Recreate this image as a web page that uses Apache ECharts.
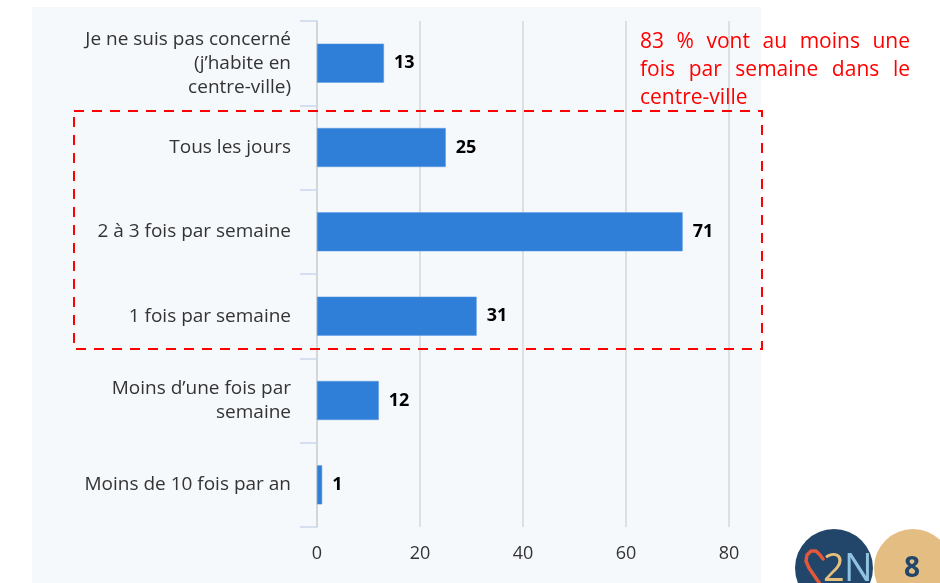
<!DOCTYPE html>
<html>
<head>
<meta charset="utf-8">
<script src="https://cdn.jsdelivr.net/npm/echarts@6/dist/echarts.min.js"></script>
<style>html,body{margin:0;padding:0;background:#fff}#c{width:940px;height:583px}</style>
</head>
<body>
<div id="c"></div>
<script>
const categories = [
  "Je ne suis pas concerné\n(j’habite en\ncentre-ville)",
  "Tous les jours",
  "2 à 3 fois par semaine",
  "1 fois par semaine",
  "Moins d’une fois par\nsemaine",
  "Moins de 10 fois par an"
];
const values = [13, 25, 71, 31, 12, 1];
const xTicks = [0, 20, 40, 60, 80];
const noteLines = [
  ["83", "%", "vont", "au", "moins", "une"],
  ["fois", "par", "semaine", "dans", "le"],
  ["centre-ville"]
];

const chart = echarts.init(document.getElementById('c'), null, {renderer: 'canvas'});

// justified annotation text
const noteFont = '21px "Open Sans"';
const ctx = document.createElement('canvas').getContext('2d');
ctx.font = noteFont;
const noteLeft = 640, noteRight = 910, noteTop = 42, noteStep = 28;
const noteEls = [];
noteLines.forEach((words, li) => {
  const widths = words.map(w => ctx.measureText(w).width);
  const total = widths.reduce((a, b) => a + b, 0);
  const justify = li < noteLines.length - 1 && words.length > 1;
  const gap = justify ? (noteRight - noteLeft - total) / (words.length - 1) : ctx.measureText(' ').width;
  let x = noteLeft;
  words.forEach((w, i) => {
    noteEls.push({
      type: 'text', x: x, y: noteTop + li * noteStep, z: 200,
      style: {text: w, fill: '#ff0000', font: noteFont, verticalAlign: 'middle'}
    });
    x += widths[i] + gap;
  });
});

const option = {
  backgroundColor: '#ffffff',
  animation: false,
  grid: {left: 317, right: 211, top: 21, bottom: 56, containLabel: false},
  xAxis: {
    type: 'value', min: 0, max: 80, interval: 20,
    axisLine: {show: false}, axisTick: {show: false},
    axisLabel: {margin: 18, color: '#333', fontSize: 18, fontFamily: 'Open Sans',
      formatter: v => xTicks.includes(v) ? String(v) : ''},
    splitLine: {show: true, lineStyle: {color: '#d6d6d6', width: 1.5}}
  },
  yAxis: {
    type: 'category', data: categories, inverse: true,
    axisLine: {show: true, lineStyle: {color: '#d3d3d3', width: 1.5}},
    axisTick: {show: true, length: 17, lineStyle: {color: '#ccd6eb', width: 1.5}},
    axisLabel: {margin: 26, color: '#333', fontSize: 19, lineHeight: 24, fontFamily: 'Open Sans', align: 'right'}
  },
  series: [{
    type: 'bar', data: values, barWidth: 39,
    itemStyle: {color: '#2f7ed8', borderColor: '#5a9be3', borderWidth: 0.5},
    label: {show: true, position: 'right', distance: 10, color: '#000', fontWeight: 'bold',
      fontSize: 18, fontFamily: 'Open Sans'}
  }],
  graphic: [
    {type: 'rect', z: -100, shape: {x: 32, y: 7, width: 729, height: 576}, style: {fill: '#f6f9fc'}},
    {type: 'rect', z: 150, shape: {x: 74, y: 111, width: 688, height: 238},
      style: {fill: null, stroke: '#ff0000', lineWidth: 2, lineDash: [10, 8]}},
    ...noteEls,
    {type: 'circle', z: 150, shape: {cx: 834, cy: 568, r: 39}, style: {fill: '#22466a'}},
    {type: 'circle', z: 150, shape: {cx: 913, cy: 568, r: 39}, style: {fill: '#e3bd82'}},
    {type: 'text', z: 160, x: 912, y: 569, style: {text: '8', fill: '#22466a', font: 'bold 28px "Open Sans"', align: 'center', verticalAlign: 'middle'}},
    {type: 'polyline', z: 160, shape: {points: [[820, 584], [809, 568], [806, 561], [807, 555], [811, 551], [816, 551], [820, 555], [823, 559]]},
      style: {fill: null, stroke: '#e3573a', lineWidth: 3.5, lineCap: 'round', lineJoin: 'round'}},
    {type: 'text', z: 160, x: 823, y: 570, style: {text: '2', fill: '#e8c07e', font: '38px "Open Sans"', align: 'left', verticalAlign: 'middle'}},
    {type: 'text', z: 160, x: 844, y: 570, style: {text: 'N', fill: '#8fc3e0', font: '38px "Open Sans"', align: 'left', verticalAlign: 'middle'}}
  ]
};
chart.setOption(option);
</script>
</body>
</html>
